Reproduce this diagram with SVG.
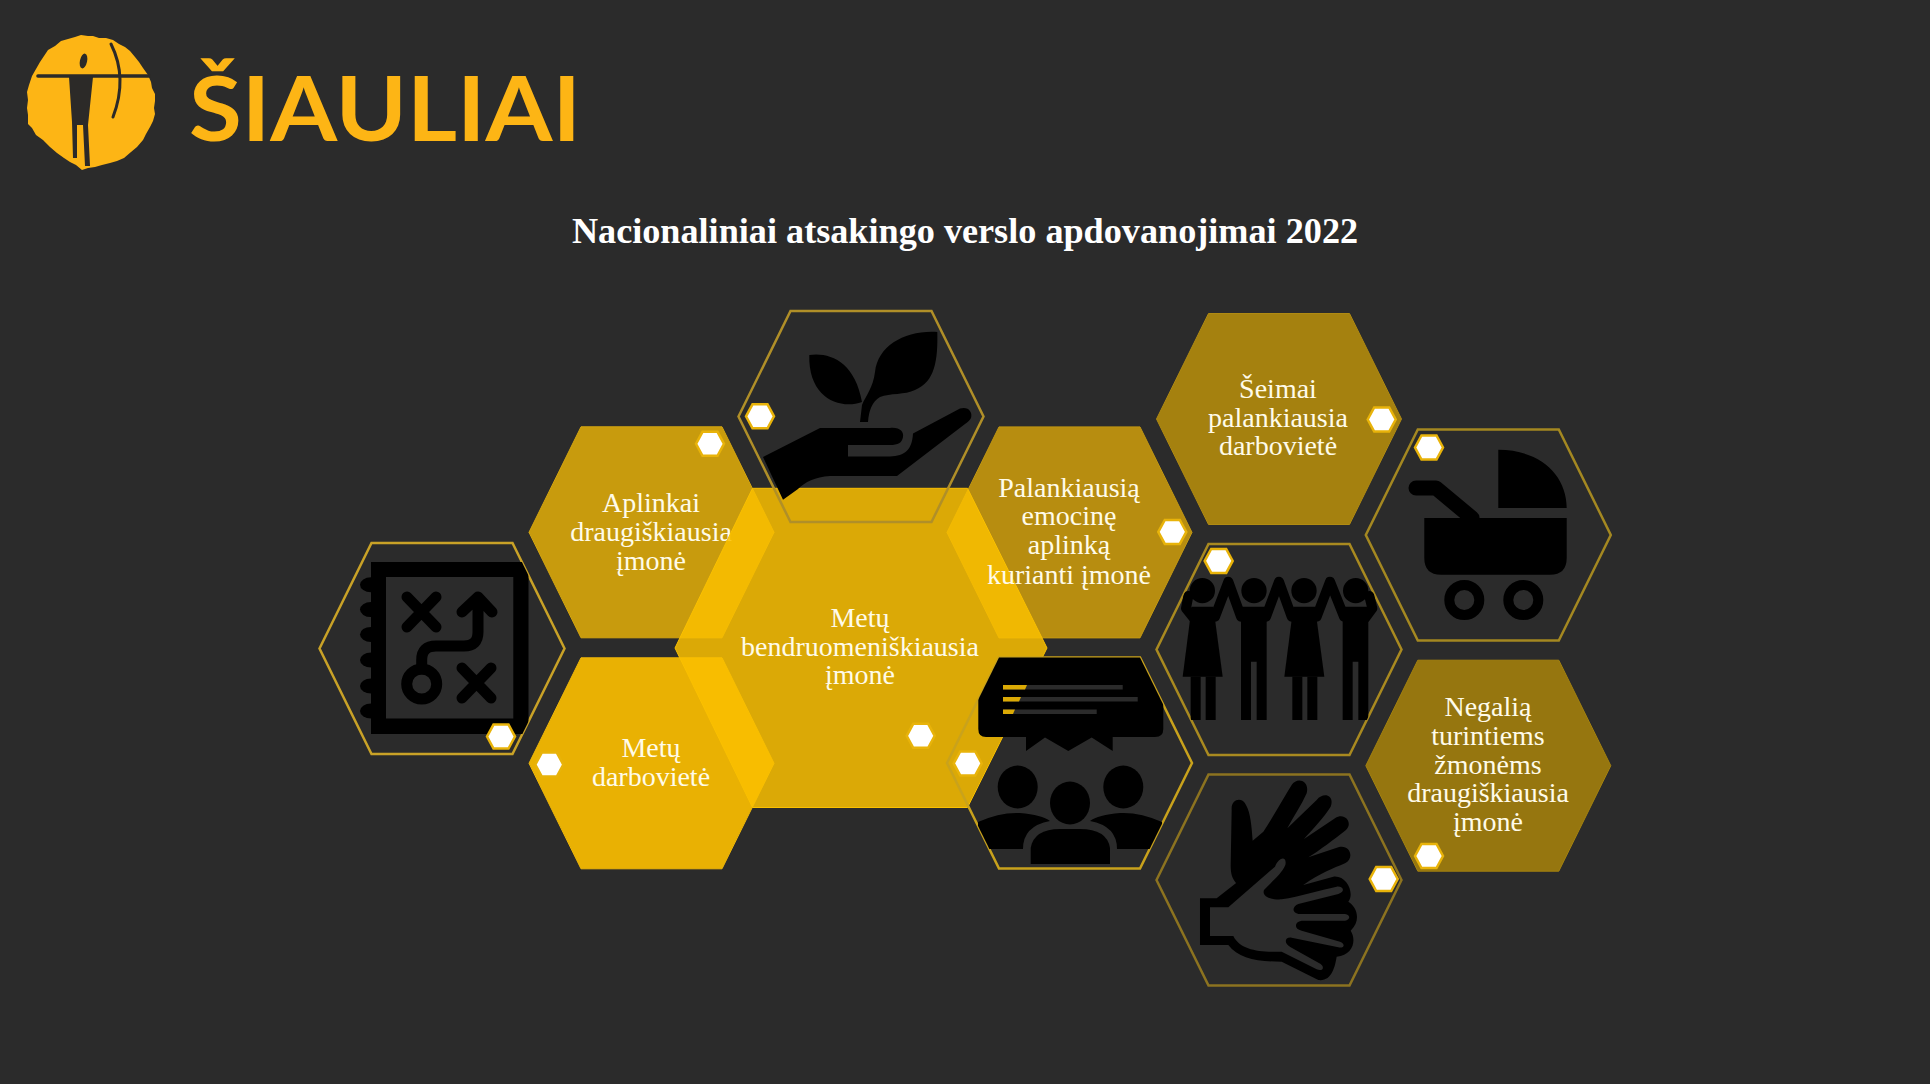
<svg xmlns="http://www.w3.org/2000/svg" width="1930" height="1084" viewBox="0 0 1930 1084">
<style>
.lbl{font-family:"Liberation Serif","Times New Roman",serif;font-size:28px;fill:#fffbe9;text-anchor:middle}
.ttl{font-family:"Liberation Serif","Times New Roman",serif;font-size:36.2px;font-weight:bold;fill:#fff;text-anchor:middle}
.dot{fill:#fff;stroke:#e8b30a;stroke-width:2.5}
.ink{fill:#000}
.inks{fill:none;stroke:#000;stroke-linecap:round;stroke-linejoin:round}
.out{fill:none;stroke-width:2.5}
.bar{fill:#2b2b2b}
.gold{fill:#dbaa05}
</style>
<defs>
<polygon id="hex" points="-122.5,0 -70.5,-105.5 70.5,-105.5 122.5,0 70.5,105.5 -70.5,105.5"/>
<polygon id="mini" points="-14,0 -7.5,-12 7.5,-12 14,0 7.5,12 -7.5,12"/>
<clipPath id="cStrategy"><use href="#hex" x="442" y="648.5"/></clipPath>
<clipPath id="cAudience"><use href="#hex" x="1069.5" y="763"/></clipPath>
<clipPath id="cFamily"><use href="#hex" x="1279" y="649.5"/></clipPath>
<g id="female"><path d="M-32,200H33L61,410H-59Z"/><rect x="-35" y="410" width="30" height="130"/><rect x="10" y="410" width="30" height="130"/></g>
<g id="male"><path d="M-39,200H38V540H8V365H-9V540H-39Z"/></g>
</defs>
<rect width="1930" height="1084" fill="#2b2b2b"/>

<g id="logo">
<polygon fill="#fdb515" points="81,35 88,36 93,36 99,38 106,38 113,40 119,44 125,47 130,51 135,57 139,62 143,68 148,75 151,82 152,88 155,94 155,101 154,108 155,114 153,121 150,127 146,134 143,140 137,147 131,152 124,158 117,161 110,163 102,165 95,167 88,168 82,170 76,165 70,162 64,158 57,153 50,147 43,140 36,135 32,128 28,124 28,115 27,108 28,100 27,92 29,85 32,76 36,69 40,62 44,56 48,50 55,46 61,41 68,39 75,37"/>
<ellipse cx="83.5" cy="61" rx="3.6" ry="7.5" fill="#2c2a28" transform="rotate(12 83.5 61)"/>
<path d="M38,76H149" stroke="#2c2a28" stroke-width="3.6" stroke-linecap="round" fill="none"/>
<path d="M69,77H93L88,125L90,166H85L83,125H77L77,158H73L72,122Z" fill="#2c2a28"/>
<path d="M111,44Q128,78 113,117" stroke="#2c2a28" stroke-width="3" stroke-linecap="round" fill="none"/>
<text x="189" y="141" font-family="Lato,'Noto Sans',sans-serif" font-weight="700" font-size="90" fill="#fdb515" textLength="392" lengthAdjust="spacingAndGlyphs">ŠIAULIAI</text>
</g>
<text id="title" class="ttl" x="965" y="243">Nacionaliniai atsakingo verslo apdovanojimai 2022</text>

<g id="connectors"></g>

<g id="node-strategy">
<use href="#hex" x="442" y="648.5" class="out" stroke="#c9a227"/>
<g clip-path="url(#cStrategy)">
<path class="ink" fill-rule="evenodd" d="M371,562H528.5V734H371ZM386,577V718.6H513.3V577Z"/>
<g class="ink"><ellipse cx="371" cy="584.7" rx="11" ry="7.5"/><ellipse cx="371" cy="609.6" rx="11" ry="7.5"/><ellipse cx="371" cy="634.4" rx="11" ry="7.5"/><ellipse cx="371" cy="660" rx="11" ry="7.5"/><ellipse cx="371" cy="686" rx="11" ry="7.5"/><ellipse cx="371" cy="711" rx="11" ry="7.5"/></g>
<g class="inks" stroke-width="11"><path d="M407,597L436,627M436,597L407,627M462,668L491,698M491,668L462,698"/><circle cx="421.7" cy="684" r="15"/><path d="M421.7,669V660Q421.7,646 436,646H464Q478,646 478,632V597M462,612L478,597L492,612"/></g>
</g>
</g>

<g id="node-aplinkai">
<use href="#hex" x="651.5" y="532.3" fill="#c89b0d" stroke="#d4a510" stroke-width="1"/>
<text class="lbl" x="651" y="512">Aplinkai</text><text class="lbl" x="651" y="541">draugiškiausia</text><text class="lbl" x="651" y="569.5">įmonė</text>
</g>
<g id="node-metu-darboviete">
<use href="#hex" x="651.5" y="763.3" fill="#e9b103" stroke="#edb60a" stroke-width="1"/>
<text class="lbl" x="651" y="757">Metų</text><text class="lbl" x="651" y="786">darbovietė</text>
</g>
<g id="node-palankiausia">
<use href="#hex" x="1069.5" y="532.4" fill="#b78d10" stroke="#c39812" stroke-width="1"/>
</g>
<g id="node-central">
<polygon points="675,648 752.5,488.3 967.5,488.3 1047,648 967.5,807.5 752.5,807.5" fill="#fac000" fill-opacity=".85" stroke="#fac000" stroke-width="1"/>
<text class="lbl" x="860" y="627">Metų</text><text class="lbl" x="860" y="655.5">bendruomeniškiausia</text><text class="lbl" x="860" y="684">įmonė</text>
</g>
<g id="node-palankiausia-text">
<text class="lbl" x="1069" y="496.7">Palankiausią</text><text class="lbl" x="1069" y="525.4">emocinę</text><text class="lbl" x="1069" y="554">aplinką</text><text class="lbl" x="1069" y="583.5">kurianti įmonė</text>
</g>

<g id="node-plant">
<use href="#hex" x="861" y="416.5" class="out" stroke="#b08f28"/>
<path class="ink" d="M809.3,355C830,352 855,362 862,402C840,410 808,398 809.3,355ZM937.3,332C906,330 878,345 875,372C873,388 866,395 862,405L860,422H868C869,410 872,402 880,397C890,393 905,395 915,390C935,382 938,360 937.3,332ZM763,457L820,428H890C900,427 904,432 903,437C902,443 898,445 890,445H848V456.5H890C905,456 912,450 913,433.5L960,408.6C968,406 973,412 971,418C970,420 968,422 965,424L897,476H830C815,477 805,482 798,489L783,499.7Z"/>
</g>

<g id="node-audience">
<use href="#hex" x="1069.5" y="763" class="out" stroke="#c9a21c"/>
<g clip-path="url(#cAudience)">
<path class="ink" d="M978.3,650H1163.3V729Q1163.3,737 1155,737H1112.7V751L1091.7,737.6L1068.3,751L1045,737.6L1026,751V737H986Q978.3,737 978.3,729Z"/>
<rect class="bar" x="1003" y="685" width="119.7" height="4.5"/><rect class="bar" x="1003" y="697" width="134.7" height="4.5"/><rect class="bar" x="1003" y="709.5" width="93.7" height="4.5"/>
<polygon class="gold" points="1003,685 1027,685 1025,689.5 1003,689.5"/><polygon class="gold" points="1003,697 1021,697 1019,701.5 1003,701.5"/><polygon class="gold" points="1003,709.5 1015,709.5 1013,714 1003,714"/>
<g class="ink"><ellipse cx="1017.7" cy="787" rx="20" ry="21.5"/><ellipse cx="1070" cy="803" rx="20" ry="21.5"/><ellipse cx="1123.3" cy="787" rx="20" ry="21.5"/>
<path d="M1030.7,864V848Q1034,829 1060,829H1080Q1107,829 1110,848V864Z"/>
<path d="M978,822Q1000,812 1020,813Q1042,815 1050,821Q1023,826 1023,849H978Z"/>
<path d="M1162,822Q1140,812 1120,813Q1098,815 1090,821Q1117,826 1117,849H1162Z"/></g>
</g>
</g>

<g id="node-seimai">
<use href="#hex" x="1279" y="419" fill="#a5810f" stroke="#b08a12" stroke-width="1"/>
<text class="lbl" x="1278" y="398">Šeimai</text><text class="lbl" x="1278" y="426.8">palankiausia</text><text class="lbl" x="1278" y="455.3">darbovietė</text>
</g>

<g id="node-family">
<use href="#hex" x="1279" y="649.5" class="out" stroke="#a98a20"/>
<g clip-path="url(#cFamily)">
<g class="ink" transform="translate(1160 540) scale(.33333)">
<circle cx="127" cy="152" r="38"/><circle cx="282" cy="152" r="38"/><circle cx="432" cy="152" r="38"/><circle cx="587" cy="152" r="38"/>
<use href="#female" x="127"/><use href="#male" x="282"/><use href="#female" x="432"/><use href="#male" x="587"/>
<path class="inks" stroke-width="30" d="M102,235L78,205L85,168M165,230L205,125L243,230M318,230L357,125L395,230M470,230L510,125L552,230M615,235L637,205L628,168"/>
</g>
</g>
</g>

<g id="node-hands">
<use href="#hex" x="1279" y="880" class="out" stroke="#8c7320"/>
<g id="hands-icon" transform="translate(1160 770) scale(.33333)">
<path class="ink" d="M215,120C212,85 248,80 258,105C272,130 275,170 278,212L310,185C340,140 370,85 395,45C410,20 450,30 440,70C425,105 400,140 382,175L470,90C490,65 525,75 512,110C490,145 460,175 432,207L525,145C555,125 580,160 558,180C520,210 480,240 445,262L535,232C570,222 585,265 555,280C520,295 480,310 430,345L400,420L240,380L233,345C215,325 212,310 212,285Z"/>
<path class="ink" d="M120,385H170L240,330L430,345L520,320C560,315 585,370 565,395C590,410 605,450 572,482C590,510 580,555 530,560C525,590 515,635 475,630L365,575C290,575 235,565 205,525H120Z"/>
<path fill="#2b2b2b" d="M150,412H205L345,290C358,258 382,258 376,285C365,312 335,335 312,360C305,378 330,390 365,388C420,380 480,360 530,350C552,348 556,366 535,372L415,402C395,410 395,430 420,432H555C572,434 572,450 555,452H425C402,455 402,478 425,482L540,515C558,522 552,536 535,532L395,503C372,500 372,522 392,532L482,582C495,592 488,606 470,598L365,545C300,548 240,540 220,498H150Z"/>
</g>
</g>

<g id="node-stroller">
<use href="#hex" x="1488.3" y="535" class="out" stroke="#a48821"/>
<path class="ink" d="M1498.3,449.8C1540,449.8 1566.7,475 1566.7,508H1498.3ZM1424.3,518H1566.7V558Q1566.7,574.7 1550,574.7H1441Q1424.3,574.7 1424.3,558Z"/>
<path class="inks" stroke-width="15" d="M1416,488H1436L1472,518"/>
<g class="inks" stroke-width="10"><circle cx="1464.3" cy="600" r="15"/><circle cx="1523.3" cy="600" r="15"/></g>
</g>

<g id="node-negalia">
<use href="#hex" x="1488.3" y="765.7" fill="#96760f" stroke="#a4820f" stroke-width="1"/>
<text class="lbl" x="1488" y="716">Negalią</text><text class="lbl" x="1488" y="744.5">turintiems</text><text class="lbl" x="1488" y="773.5">žmonėms</text><text class="lbl" x="1488" y="802.4">draugiškiausia</text><text class="lbl" x="1488" y="831">įmonė</text>
</g>

<g id="markers">
<use href="#mini" class="dot" x="501" y="736.6"/>
<use href="#mini" class="dot" x="710" y="443.8"/>
<use href="#mini" class="dot" x="549.3" y="764.6"/>
<use href="#mini" class="dot" x="760" y="416.3"/>
<use href="#mini" class="dot" x="920.7" y="735.8"/>
<use href="#mini" class="dot" x="967.7" y="763.4"/>
<use href="#mini" class="dot" x="1172.3" y="531.9"/>
<use href="#mini" class="dot" x="1381.7" y="419.5"/>
<use href="#mini" class="dot" x="1218.7" y="560.9"/>
<use href="#mini" class="dot" x="1429" y="447.5"/>
<use href="#mini" class="dot" x="1429" y="856"/>
<use href="#mini" class="dot" x="1383.7" y="879"/>
</g>
</svg>
